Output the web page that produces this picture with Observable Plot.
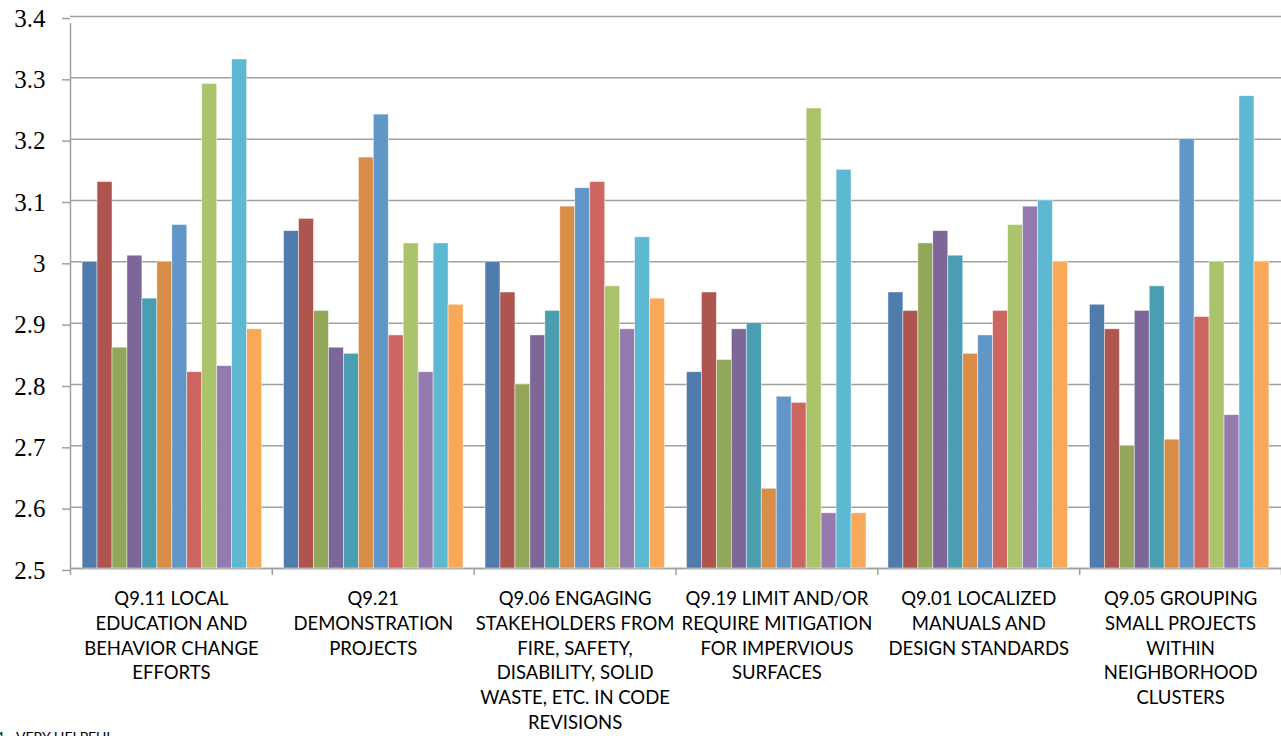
<!DOCTYPE html>
<html>
<head>
<meta charset="utf-8">
<script src="https://cdn.jsdelivr.net/npm/d3@7"></script>
<script src="https://cdn.jsdelivr.net/npm/@observablehq/plot@0.6"></script>
<style>
  html, body { margin: 0; padding: 0; background: #fff; }
  body { width: 1281px; height: 736px; overflow: hidden; position: relative; }
  #chart { position: absolute; left: 0; top: 0; width: 1281px; height: 736px; }
  #chart svg { position: absolute; left: 0; top: 0; }
  #note { position: absolute; left: -4px; top: 730px; font-family: Lato, sans-serif; font-size: 14px; line-height: 14px; color: #000; white-space: nowrap; }
</style>
</head>
<body>
<div id="chart"></div>
<div id="note">4 - VERY HELPFUL</div>
<script>
// ---- Data ----
const questions = ["Q9.11", "Q9.21", "Q9.06", "Q9.19", "Q9.01", "Q9.05"];
const questionLabels = [
  "Q9.11 LOCAL\nEDUCATION AND\nBEHAVIOR CHANGE\nEFFORTS",
  "Q9.21\nDEMONSTRATION\nPROJECTS",
  "Q9.06 ENGAGING\nSTAKEHOLDERS FROM\nFIRE, SAFETY,\nDISABILITY, SOLID\nWASTE, ETC. IN CODE\nREVISIONS",
  "Q9.19 LIMIT AND/OR\nREQUIRE MITIGATION\nFOR IMPERVIOUS\nSURFACES",
  "Q9.01 LOCALIZED\nMANUALS AND\nDESIGN STANDARDS",
  "Q9.05 GROUPING\nSMALL PROJECTS\nWITHIN\nNEIGHBORHOOD\nCLUSTERS"
];
const seriesNames = ["Series 1","Series 2","Series 3","Series 4","Series 5","Series 6",
                     "Series 7","Series 8","Series 9","Series 10","Series 11","Series 12"];
const seriesColors = ["#4F7BAD","#AE5550","#93A75A","#7D6698","#4A9EB2","#D98D47",
                      "#6196C9","#CD6660","#ABC36B","#957AB0","#5CB9D1","#F9A857"];

const valuesQ911 = [3.00, 3.13, 2.86, 3.01, 2.94, 3.00, 3.06, 2.82, 3.29, 2.83, 3.33, 2.89];
const valuesQ921 = [3.05, 3.07, 2.92, 2.86, 2.85, 3.17, 3.24, 2.88, 3.03, 2.82, 3.03, 2.93];
const valuesQ906 = [3.00, 2.95, 2.80, 2.88, 2.92, 3.09, 3.12, 3.13, 2.96, 2.89, 3.04, 2.94];
const valuesQ919 = [2.82, 2.95, 2.84, 2.89, 2.90, 2.63, 2.78, 2.77, 3.25, 2.59, 3.15, 2.59];
const valuesQ901 = [2.95, 2.92, 3.03, 3.05, 3.01, 2.85, 2.88, 2.92, 3.06, 3.09, 3.10, 3.00];
const valuesQ905 = [2.93, 2.89, 2.70, 2.92, 2.96, 2.71, 3.20, 2.91, 3.00, 2.75, 3.27, 3.00];

const yTicks = [2.5, 2.6, 2.7, 2.8, 2.9, 3.0, 3.1, 3.2, 3.3, 3.4];
const yTickLabels = ["2.5", "2.6", "2.7", "2.8", "2.9", "3", "3.1", "3.2", "3.3", "3.4"];
const yDomain = [2.5, 3.4];

// ---- Build table ----
const allValues = [valuesQ911, valuesQ921, valuesQ906, valuesQ919, valuesQ901, valuesQ905];
const rows = [];
questions.forEach((q, gi) => {
  allValues[gi].forEach((v, si) => rows.push({question: q, series: seriesNames[si], value: v}));
});

const W = 1281, H = 736;
const margins = {marginTop: 16, marginBottom: 168, marginLeft: 70, marginRight: 0};
const gridColor = "#A0A0A0";

// Background layer: grid, axes, category labels
const back = Plot.plot({
  width: W, height: H, ...margins,
  style: {background: "transparent", overflow: "visible"},
  x: {domain: [0, questions.length], axis: null},
  y: {domain: yDomain, axis: null},
  marks: [
    Plot.gridY(yTicks, {stroke: gridColor, strokeOpacity: 1, strokeWidth: 1.5}),
    Plot.axisY(yTicks, {
      anchor: "left", tickSize: 8, tickPadding: 17, stroke: gridColor, strokeWidth: 1.5,
      fontSize: 25, fontFamily: "Liberation Serif", fill: "#000", dy: 2,
      tickFormat: d => yTickLabels[yTicks.findIndex(t => Math.abs(t - d) < 1e-9)]
    }),
    Plot.ruleX([0], {y1: yDomain[0], y2: yDomain[1], stroke: gridColor, strokeWidth: 1.5, insetBottom: -7}),
    Plot.ruleY([yDomain[0]], {stroke: gridColor, strokeWidth: 1.5}),
    Plot.axisX(d3.range(questions.length + 1), {anchor: "bottom", tickSize: 7, tickFormat: () => "", stroke: gridColor, strokeWidth: 1.5}),
    Plot.text(questionLabels, {
      x: (d, i) => i + 0.5, y: yDomain[0], text: d => d,
      lineAnchor: "top", dy: 19, fontSize: 18.5, lineHeight: 1.34,
      fontFamily: "Lato", fill: "#000"
    })
  ]
});

// Foreground layer: grouped bars
const front = Plot.plot({
  width: W, height: H, ...margins,
  style: {background: "transparent", overflow: "visible"},
  fx: {domain: questions, paddingInner: 0.109, paddingOuter: 0.06, axis: null, label: null, round: false},
  x: {domain: seriesNames, padding: 0, axis: null, round: false},
  y: {domain: yDomain, axis: null},
  color: {domain: seriesNames, range: seriesColors},
  marks: [
    Plot.barY(rows, {
      fx: "question", x: "series", y1: yDomain[0], y2: "value", fill: "series",
      stroke: "#ffffff", strokeOpacity: 0.6, strokeWidth: 0.75
    })
  ]
});

const chart = document.getElementById("chart");
chart.appendChild(back);
chart.appendChild(front);
</script>
</body>
</html>
